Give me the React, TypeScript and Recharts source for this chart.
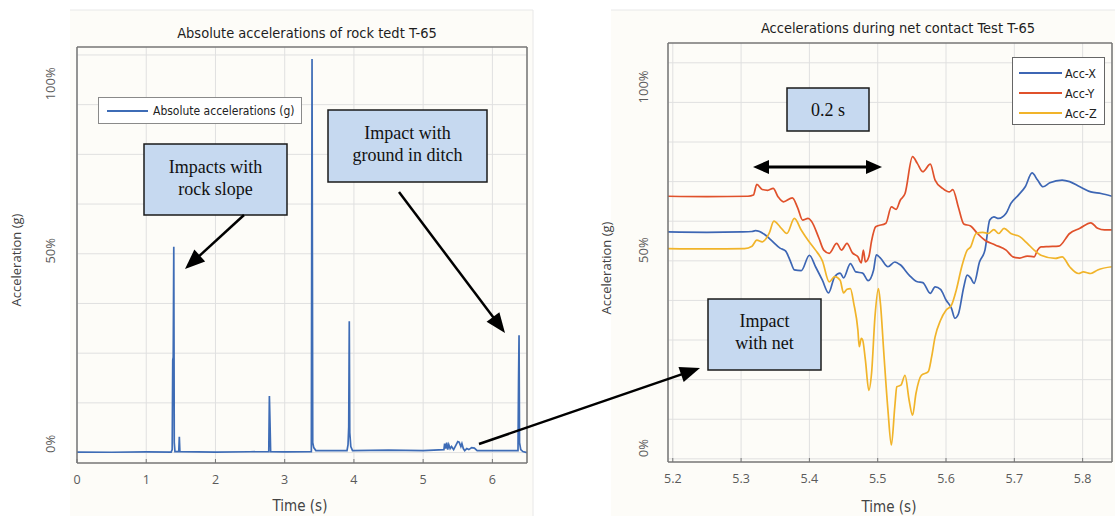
import React from 'react';
import { LineChart, Line, XAxis, YAxis, CartesianGrid, Legend, ReferenceLine } from 'recharts';

// ---------- Left chart data ----------
const leftTime = [0, 0.5, 1.0, 1.36, 1.375, 1.383, 1.39, 1.398, 1.405, 1.415, 1.47, 1.478, 1.486, 2.0, 2.5, 2.77, 2.779, 2.788, 2.797, 3.0, 3.385, 3.395, 3.405, 3.42, 3.45, 3.9, 3.915, 3.925, 3.933, 3.94, 3.955, 3.98, 4.5, 5.0, 5.3, 5.31, 5.325, 5.34, 5.355, 5.37, 5.39, 5.41, 5.44, 5.47, 5.5, 5.52, 5.545, 5.56, 5.58, 5.6, 5.63, 5.66, 5.7, 5.74, 5.78, 6.0, 6.37, 6.378, 6.385, 6.392, 6.41, 6.44, 6.5];
const leftAccel = [0.05, 0.03, 0.06, 0.05, 0.3, 9.3, 9.6, 20.7, 1.0, 0.1, 0.1, 1.6, 0.1, 0.05, 0.08, 0.1, 5.7, 3.0, 0.1, 0.06, 0.1, 39.6, 1.0, 0.5, 0.2, 0.2, 0.8, 2.6, 13.2, 2.0, 0.6, 0.2, 0.25, 0.2, 0.3, 0.9, 0.4, 1.0, 0.3, 0.8, 0.4, 0.6, 0.3, 0.7, 1.1, 1.05, 0.6, 0.9, 0.4, 0.2, 0.4, 0.3, 0.5, 0.45, 0.2, 0.2, 0.2, 7.3, 11.8, 1.0, 0.3, 0.1, 0.0];
const leftXTicks = [0, 1, 2, 3, 4, 5, 6];
const leftXDomain = [0, 6.5];
const leftYDomain = [-1.05, 40.8];
const leftGridValues = [0, 5, 10, 15, 20, 25, 30, 35, 40];
const leftYLabelValues = [0.87, 20.3, 37.1];
const yTickLabels = ['0%', '50%', '100%'];

// ---------- Right chart data ----------
const accXTime = [5.193, 5.25, 5.3, 5.316, 5.321, 5.334, 5.344, 5.357, 5.365, 5.372, 5.378, 5.388, 5.4, 5.409, 5.419, 5.428, 5.437, 5.445, 5.45, 5.46, 5.468, 5.478, 5.486, 5.494, 5.498, 5.504, 5.515, 5.525, 5.533, 5.546, 5.558, 5.566, 5.577, 5.584, 5.592, 5.6, 5.608, 5.613, 5.618, 5.626, 5.631, 5.636, 5.641, 5.649, 5.657, 5.664, 5.67, 5.677, 5.688, 5.695, 5.706, 5.716, 5.726, 5.734, 5.742, 5.752, 5.77, 5.781, 5.796, 5.812, 5.827, 5.843];
const accXValues = [5.73, 5.72, 5.73, 5.74, 5.76, 5.67, 5.52, 5.32, 5.25, 5.0, 4.77, 4.75, 5.14, 4.85, 4.51, 4.19, 4.6, 4.69, 4.57, 4.93, 4.72, 4.69, 4.5, 4.77, 5.15, 5.07, 4.85, 4.97, 4.9, 4.64, 4.47, 4.45, 4.18, 4.34, 4.28, 4.01, 3.8, 3.55, 3.65, 4.34, 4.64, 4.57, 4.43, 4.97, 5.27, 6.03, 6.11, 6.07, 6.2, 6.45, 6.66, 6.87, 7.22, 7.04, 6.87, 6.97, 7.04, 7.0, 6.87, 6.74, 6.7, 6.63];

const accYTime = [5.193, 5.25, 5.31, 5.318, 5.323, 5.331, 5.339, 5.347, 5.354, 5.362, 5.375, 5.383, 5.39, 5.398, 5.403, 5.414, 5.421, 5.429, 5.44, 5.447, 5.455, 5.463, 5.471, 5.476, 5.479, 5.482, 5.487, 5.491, 5.497, 5.512, 5.52, 5.527, 5.533, 5.54, 5.551, 5.558, 5.566, 5.577, 5.584, 5.595, 5.605, 5.61, 5.618, 5.626, 5.636, 5.646, 5.657, 5.672, 5.688, 5.698, 5.708, 5.719, 5.729, 5.734, 5.739, 5.75, 5.765, 5.781, 5.796, 5.812, 5.822, 5.832, 5.843];
const accYValues = [6.63, 6.62, 6.63, 6.66, 6.93, 6.8, 6.78, 6.83, 6.62, 6.49, 6.59, 6.33, 6.03, 6.07, 6.0, 5.57, 5.27, 5.19, 5.44, 5.27, 5.44, 5.2, 5.1, 4.95, 5.27, 4.97, 5.1, 5.5, 5.86, 5.95, 6.36, 6.3, 6.53, 6.7, 7.63, 7.46, 7.25, 7.44, 7.04, 6.83, 6.74, 6.8, 6.36, 5.93, 5.88, 5.69, 5.52, 5.4, 5.27, 5.1, 5.07, 5.12, 5.1, 5.27, 5.35, 5.36, 5.37, 5.69, 5.82, 5.96, 5.82, 5.78, 5.78];

const accZTime = [5.193, 5.25, 5.305, 5.316, 5.323, 5.331, 5.341, 5.348, 5.357, 5.367, 5.378, 5.388, 5.398, 5.409, 5.419, 5.429, 5.437, 5.445, 5.45, 5.455, 5.46, 5.465, 5.471, 5.473, 5.476, 5.478, 5.482, 5.487, 5.491, 5.496, 5.501, 5.504, 5.509, 5.515, 5.52, 5.525, 5.528, 5.534, 5.54, 5.546, 5.551, 5.556, 5.564, 5.574, 5.579, 5.584, 5.592, 5.6, 5.608, 5.615, 5.623, 5.631, 5.636, 5.644, 5.654, 5.662, 5.67, 5.677, 5.685, 5.695, 5.708, 5.719, 5.729, 5.739, 5.76, 5.77, 5.781, 5.794, 5.801, 5.812, 5.822, 5.843];
const accZValues = [5.31, 5.3, 5.31, 5.37, 5.52, 5.48, 5.69, 6.0, 5.86, 5.69, 6.07, 5.78, 5.52, 5.27, 5.0, 4.47, 4.6, 4.51, 4.19, 4.28, 4.3, 3.92, 3.25, 2.83, 3.04, 3.0, 2.49, 1.73, 2.16, 3.59, 4.3, 3.92, 2.66, 1.23, 0.35, 1.31, 1.82, 1.86, 2.11, 1.48, 1.1, 1.65, 2.11, 2.2, 2.58, 3.08, 3.5, 3.75, 3.88, 4.26, 4.85, 5.27, 5.35, 5.69, 5.72, 5.69, 5.79, 5.69, 5.82, 5.69, 5.61, 5.44, 5.27, 5.14, 5.06, 5.1, 4.85, 4.68, 4.72, 4.68, 4.77, 4.85];

const rightXTicks = [5.2, 5.3, 5.4, 5.5, 5.6, 5.7, 5.8];
const rightXDomain = [5.193, 5.843];
const rightYDomain = [-0.08, 10.5];
const rightGridValues = [0, 1, 2, 3, 4, 5, 6, 7, 8, 9, 10];
const rightYLabelValues = [0.27, 5.27, 9.39];

const seriesNames = ['Acc-X', 'Acc-Y', 'Acc-Z'];
const seriesColors = ['#3d66b4', '#e0512b', '#f1b42a'];

const zip = (ts: number[], vs: number[]) => ts.map((t, i) => ({ t, v: vs[i] }));
const leftData = zip(leftTime, leftAccel);
const rightSeries = [zip(accXTime, accXValues), zip(accYTime, accYValues), zip(accZTime, accZValues)];

const NARROW = "'Liberation Sans Narrow', 'Arial Narrow', 'DejaVu Sans Condensed', sans-serif";
const SANS = "'Open Sans', 'Noto Sans', sans-serif";
const SERIF = "'Liberation Serif', 'Times New Roman', serif";
const FRAME = '#767676';
const GRID = '#e0e0e0';
const BG = '#fdfcf8';

const makeYLabelTick = (values: number[], labels: string[], dx: number) => (props: any) => {
  const { x, y, payload } = props;
  let idx = 0;
  values.forEach((v, i) => { if (Math.abs(v - payload.value) < Math.abs(values[idx] - payload.value)) idx = i; });
  const cx = x + dx;
  return (
    <text x={cx} y={y} transform={`rotate(-90 ${cx} ${y})`} textAnchor="middle" dominantBaseline="central"
      fontSize={13} fill="#5a5a5a" fontFamily={SANS}>{labels[idx]}</text>
  );
};

const LeftLegend = (props: any) => {
  const { payload } = props;
  return (
    <div style={{ boxSizing: 'border-box', width: 204, height: 27, border: '1px solid #8a8a8a', background: '#fff', display: 'flex', alignItems: 'center', whiteSpace: 'nowrap', fontFamily: NARROW, fontSize: 12, color: '#222' }}>
      {(payload || []).map((p: any) => (
        <React.Fragment key={p.value}>
          <span style={{ display: 'inline-block', flex: '0 0 41px', width: 41, height: 0, borderTop: `2px solid ${p.color}`, marginLeft: 8, marginRight: 5 }} />
          <span>{p.value}</span>
        </React.Fragment>
      ))}
    </div>
  );
};

const RightLegend = (props: any) => {
  const { payload } = props;
  return (
    <div style={{ boxSizing: 'border-box', width: 93, height: 68, border: '1.5px solid #666', background: '#fff', paddingTop: 5, whiteSpace: 'nowrap', fontFamily: NARROW, fontSize: 12.5, color: '#222' }}>
      {(payload || []).map((p: any) => (
        <div key={p.value} style={{ display: 'flex', alignItems: 'center', height: 20 }}>
          <span style={{ display: 'inline-block', flex: '0 0 43px', width: 43, height: 0, borderTop: `2px solid ${p.color}`, marginLeft: 6, marginRight: 3 }} />
          <span>{p.value}</span>
        </div>
      ))}
    </div>
  );
};

const frameLine = { stroke: FRAME, strokeWidth: 1.5 };
const tickLineStyle = { stroke: FRAME, strokeWidth: 1 };
const xTickStyle = { fontSize: 12.5, fill: '#5a5a5a', fontFamily: SANS };

function Arrow({ x1, y1, x2, y2, w = 2.5, both = false, L = 20, H = 8 }: any) {
  const dx = x2 - x1, dy = y2 - y1;
  const len = Math.hypot(dx, dy);
  const ux = dx / len, uy = dy / len;
  const px = -uy, py = ux;
  const head = (tx: number, ty: number, ddx: number, ddy: number) => {
    const bx = tx - ddx * L, by = ty - ddy * L;
    return `${tx},${ty} ${bx + px * H},${by + py * H} ${bx - px * H},${by - py * H}`;
  };
  const sx = both ? x1 + ux * (L - 2) : x1;
  const sy = both ? y1 + uy * (L - 2) : y1;
  const ex = x2 - ux * (L - 2), ey = y2 - uy * (L - 2);
  return (
    <g>
      <line x1={sx} y1={sy} x2={ex} y2={ey} stroke="#000" strokeWidth={w} />
      <polygon points={head(x2, y2, ux, uy)} fill="#000" />
      {both && <polygon points={head(x1, y1, -ux, -uy)} fill="#000" />}
    </g>
  );
}

function Box({ x, y, w, h, lines, baselines, cx, size = 18 }: any) {
  return (
    <g>
      <rect x={x} y={y} width={w} height={h} fill="#c6d9f0" stroke="#1a1a1a" strokeWidth={1.5} />
      {lines.map((t: string, i: number) => (
        <text key={i} x={cx} y={baselines[i]} textAnchor="middle" fontSize={size} fontFamily={SERIF} fill="#111">{t}</text>
      ))}
    </g>
  );
}

const gridLines = (values: number[]) =>
  values.map((v) => <ReferenceLine key={`g${v}`} y={v} stroke={GRID} strokeWidth={1} ifOverflow="visible" />);

const borderLines = (domain: number[]) =>
  domain.map((d) => <ReferenceLine key={`b${d}`} x={d} stroke={FRAME} strokeWidth={1.5} ifOverflow="visible" />);

export default function App() {
  return (
    <div style={{ position: 'absolute', left: 0, top: 0, width: 1115, height: 516, overflow: 'hidden', background: '#ffffff' }}>
      {/* background panels */}
      <svg width={1115} height={516} style={{ position: 'absolute', left: 0, top: 0 }}>
        <rect x={70} y={10} width={463} height={506} fill={BG} />
        <rect x={611} y={10} width={504} height={506} fill={BG} />
        <line x1={70} y1={10} x2={533} y2={10} stroke="#e8e8e8" />
        <line x1={533} y1={10} x2={533} y2={516} stroke="#e8e8e8" />
        <line x1={611} y1={10} x2={1115} y2={10} stroke="#e8e8e8" />
      </svg>

      {/* Left chart */}
      <div style={{ position: 'absolute', left: 0, top: 0 }}>
        <LineChart width={560} height={516} margin={{ top: 47, right: 33, bottom: 0, left: 0 }}>
          <CartesianGrid stroke={GRID} strokeWidth={1} horizontal={false} />
          {gridLines(leftGridValues)}
          <XAxis dataKey="t" type="number" domain={leftXDomain} ticks={leftXTicks} allowDataOverflow interval={0}
            height={53} tickSize={-4} tickMargin={16} axisLine={frameLine} tickLine={tickLineStyle} tick={xTickStyle} />
          <XAxis xAxisId="top" orientation="top" dataKey="t" type="number" domain={leftXDomain} ticks={leftXTicks}
            allowDataOverflow interval={0} mirror tick={false} tickSize={4} axisLine={frameLine} tickLine={tickLineStyle} />
          <YAxis type="number" domain={leftYDomain} allowDataOverflow hide width={0} />
          <YAxis yAxisId="lbl" type="number" domain={leftYDomain} ticks={leftYLabelValues} allowDataOverflow interval={0}
            width={77} axisLine={false} tickLine={false} tickSize={0} tickMargin={0}
            tick={makeYLabelTick(leftYLabelValues, yTickLabels, -27)} />
          <Legend layout="vertical" align="center" verticalAlign="middle" content={LeftLegend}
            wrapperStyle={{ left: 98, top: 97, width: 204, height: 27 }} />
          <Line data={leftData} dataKey="v" name="Absolute accelerations (g)" type="linear" stroke="#3e6cb6"
            strokeWidth={1.7} dot={false} isAnimationActive={false} />
          {borderLines(leftXDomain)}
        </LineChart>
      </div>

      {/* Right chart */}
      <div style={{ position: 'absolute', left: 560, top: 0 }}>
        <LineChart width={555} height={516} margin={{ top: 43, right: 3, bottom: 0, left: 0 }}>
          <CartesianGrid stroke={GRID} strokeWidth={1} horizontal={false} />
          {gridLines(rightGridValues)}
          <XAxis dataKey="t" type="number" domain={rightXDomain} ticks={rightXTicks} allowDataOverflow interval={0}
            height={54} tickSize={-4} tickMargin={16} axisLine={frameLine} tickLine={tickLineStyle} tick={xTickStyle} />
          <XAxis xAxisId="top" orientation="top" dataKey="t" type="number" domain={rightXDomain} ticks={rightXTicks}
            allowDataOverflow interval={0} mirror tick={false} tickSize={4} axisLine={frameLine} tickLine={tickLineStyle} />
          <YAxis type="number" domain={rightYDomain} allowDataOverflow hide width={0} />
          <YAxis yAxisId="lbl" type="number" domain={rightYDomain} ticks={rightYLabelValues} allowDataOverflow interval={0}
            width={108} axisLine={false} tickLine={false} tickSize={0} tickMargin={0}
            tick={makeYLabelTick(rightYLabelValues, yTickLabels, -25)} />
          <Legend layout="vertical" align="center" verticalAlign="middle" content={RightLegend}
            wrapperStyle={{ left: 452, top: 57, width: 93, height: 68 }} />
          {rightSeries.map((d, i) => (
            <Line key={seriesNames[i]} data={d} dataKey="v" name={seriesNames[i]} type="monotone" stroke={seriesColors[i]}
              strokeWidth={1.7} dot={false} isAnimationActive={false} />
          ))}
          {borderLines(rightXDomain)}
        </LineChart>
      </div>

      {/* Titles, axis titles, annotations */}
      <svg width={1115} height={516} style={{ position: 'absolute', left: 0, top: 0, pointerEvents: 'none' }}>
        <text x={307} y={38} textAnchor="middle" fontSize={14.5} fontFamily={NARROW} fill="#1e1e1e">Absolute accelerations of rock tedt T-65</text>
        <text x={898} y={33} textAnchor="middle" fontSize={14.5} fontFamily={NARROW} fill="#1e1e1e">Accelerations during net contact Test T-65</text>

        <text x={300} y={511} textAnchor="middle" fontSize={15} fontFamily={NARROW} fill="#444">Time (s)</text>
        <text x={889} y={512} textAnchor="middle" fontSize={15} fontFamily={NARROW} fill="#444">Time (s)</text>

        <text x={16} y={260} transform="rotate(-90 16 260)" textAnchor="middle" dominantBaseline="central" fontSize={13} fontFamily={SANS} fill="#444">Acceleration (g)</text>
        <text x={606} y={268} transform="rotate(-90 606 268)" textAnchor="middle" dominantBaseline="central" fontSize={13} fontFamily={SANS} fill="#444">Acceleration (g)</text>

        <Box x={144} y={144} w={143} h={71} cx={215.5} lines={['Impacts with', 'rock slope']} baselines={[173, 195]} />
        <Box x={328} y={110} w={159} h={72} cx={407.5} lines={['Impact with', 'ground in ditch']} baselines={[139, 161]} />
        <Box x={787} y={88} w={82} h={43} cx={828} lines={['0.2 s']} baselines={[116]} />
        <Box x={708} y={299} w={113} h={71} cx={764.5} lines={['Impact', 'with net']} baselines={[327, 349]} />

        <Arrow x1={244} y1={215} x2={185} y2={269} />
        <Arrow x1={399} y1={192} x2={505} y2={333} />
        <Arrow x1={479} y1={444} x2={700} y2={368} />
        <Arrow x1={753} y1={167} x2={882} y2={167} both w={3} L={16} H={7} />
      </svg>
    </div>
  );
}
